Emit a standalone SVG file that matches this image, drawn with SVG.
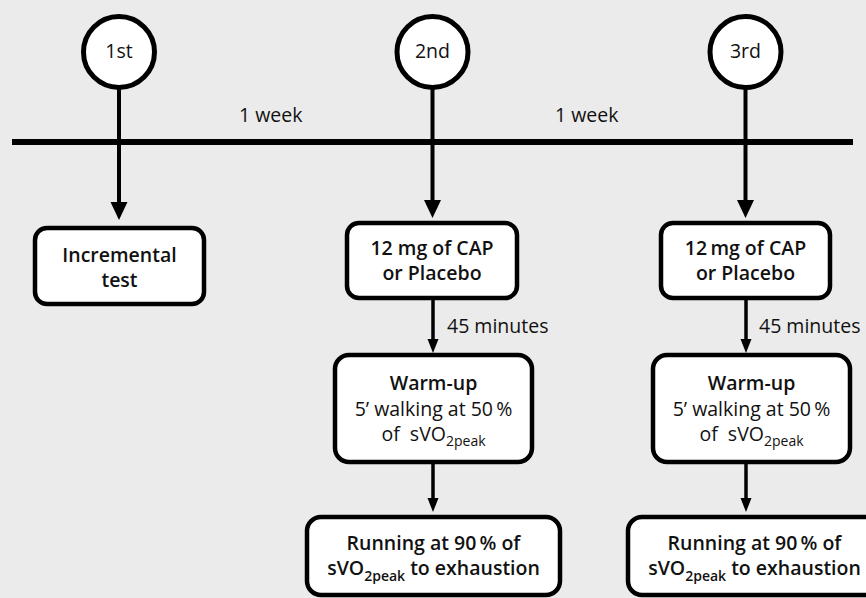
<svg xmlns="http://www.w3.org/2000/svg" width="866" height="598" viewBox="0 0 866 598">
<style>
text{font-family:"Open Sans","Noto Sans","Liberation Sans",sans-serif;font-size:19.5px;fill:#111}
.b{font-weight:600}
.c{text-anchor:middle}
.sub{font-size:14px}
.box{fill:#fff;stroke:#000;stroke-width:4.5}
.circ{fill:#fff;stroke:#000;stroke-width:5}
.big{stroke:#000;stroke-width:4;fill:none}
.sm{stroke:#000;stroke-width:3.5;fill:none}
.head{fill:#000}
</style>
<defs>
<polygon id="bighead" points="-8.5,0 8.5,0 0,18" class="head"/>
<polygon id="smhead" points="-5.5,0 5.5,0 0,14" class="head"/>
</defs>
<rect width="866" height="598" fill="#ebebeb"/>

<g id="connectors">
<line x1="12" y1="142" x2="853" y2="142" stroke="#000" stroke-width="6"/>
<line class="big" x1="119" y1="88" x2="119" y2="204"/>
<use href="#bighead" x="119" y="202"/>
<line class="big" x1="432.5" y1="88" x2="432.5" y2="202"/>
<use href="#bighead" x="432.5" y="200"/>
<line class="big" x1="745.5" y1="88" x2="745.5" y2="202"/>
<use href="#bighead" x="745.5" y="200"/>
<line class="sm" x1="433" y1="299" x2="433" y2="341"/>
<use href="#smhead" x="433" y="339"/>
<line class="sm" x1="746" y1="299" x2="746" y2="341"/>
<use href="#smhead" x="746" y="339"/>
<line class="sm" x1="433" y1="462" x2="433" y2="500"/>
<use href="#smhead" x="433" y="498"/>
<line class="sm" x1="746" y1="462" x2="746" y2="500"/>
<use href="#smhead" x="746" y="498"/>
<text x="239" y="122">1 week</text>
<text x="555" y="122">1 week</text>
<text x="447" y="333">45 minutes</text>
<text x="759" y="333">45 minutes</text>
</g>

<g id="n1st">
<circle class="circ" cx="119" cy="52" r="35.5"/>
<text class="c" x="119" y="58">1st</text>
</g>
<g id="n2nd">
<circle class="circ" cx="432.5" cy="52" r="35.5"/>
<text class="c" x="432.5" y="58">2nd</text>
</g>
<g id="n3rd">
<circle class="circ" cx="745.5" cy="52" r="35.5"/>
<text class="c" x="745.5" y="58">3rd</text>
</g>

<g id="incremental">
<rect class="box" x="35" y="228" width="169" height="76" rx="12"/>
<text class="c b" x="119.5" y="262">Incremental</text>
<text class="c b" x="119.5" y="287">test</text>
</g>

<g id="cap2">
<rect class="box" x="347" y="223" width="170" height="75" rx="12"/>
<text class="c b" x="432" y="255">12 mg of CAP</text>
<text class="c b" x="432" y="280">or Placebo</text>
</g>
<g id="cap3">
<rect class="box" x="661" y="223" width="169" height="75" rx="12"/>
<text class="c b" x="745.5" y="255">12&#8201;mg of CAP</text>
<text class="c b" x="745.5" y="280">or Placebo</text>
</g>

<g id="warm2">
<rect class="box" x="335" y="355" width="197" height="107" rx="14"/>
<text class="c b" x="433.5" y="390">Warm-up</text>
<text class="c" x="433.5" y="416">5’ walking at 50&#8201;%</text>
<text class="c" x="433.5" y="441">of&#160; sVO<tspan class="sub" dy="5">2peak</tspan></text>
</g>
<g id="warm3">
<rect class="box" x="653" y="355" width="197" height="107" rx="14"/>
<text class="c b" x="751.5" y="390">Warm-up</text>
<text class="c" x="751.5" y="416">5’ walking at 50&#8201;%</text>
<text class="c" x="751.5" y="441">of&#160; sVO<tspan class="sub" dy="5">2peak</tspan></text>
</g>

<g id="run2">
<rect class="box" x="307" y="517" width="253" height="78" rx="14"/>
<text class="c b" x="433.5" y="550">Running at 90&#8201;% of</text>
<text class="c b" x="433.5" y="575">sVO<tspan class="sub" dy="6">2peak</tspan><tspan dy="-6"> to exhaustion</tspan></text>
</g>
<g id="run3">
<rect class="box" x="628" y="517" width="253" height="78" rx="14"/>
<text class="c b" x="754.5" y="550">Running at 90&#8201;% of</text>
<text class="c b" x="754.5" y="575">sVO<tspan class="sub" dy="6">2peak</tspan><tspan dy="-6"> to exhaustion</tspan></text>
</g>
</svg>
